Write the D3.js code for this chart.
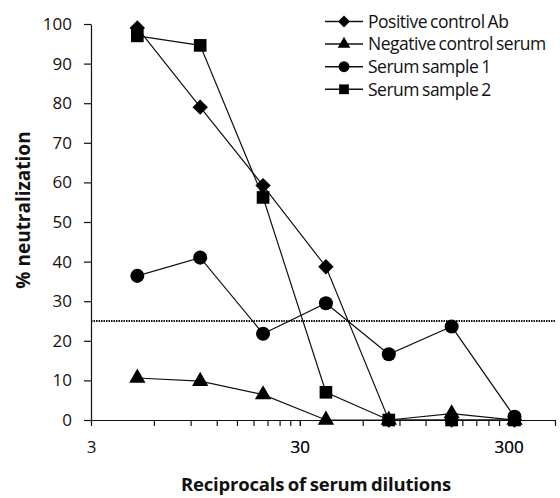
<!DOCTYPE html>
<html>
<head>
<meta charset="utf-8">
<script src="https://cdn.jsdelivr.net/npm/d3@7"></script>
<style>
  body { margin: 0; background: #fff; }
  text { font-family: "Open Sans", "Noto Sans", sans-serif; fill: #111; }
  .axis path, .axis line { stroke: #111; stroke-width: 1.2; }
</style>
</head>
<body>
<div id="chart"></div>
<script>
// dilutions (reciprocal) and % neutralization
const dilutions = [5, 10, 20, 40, 80, 160, 320];
const seriesNames = ["Positive control Ab", "Negative control serum", "Serum sample 1", "Serum sample 2"];
const positiveCtrl = [99, 79, 59.2, 38.7, 0, 0, 0];
const negativeCtrl = [10.6, 9.8, 6.4, 0, 0, 1.6, 0];
const sample1 = [36.4, 41, 21.8, 29.5, 16.6, 23.6, 0.8];
const sample2 = [97, 94.6, 56.2, 7, 0, 0, 0];
const cutoff = 25;
const xTickLabels = [3, 30, 300];
const yTicks = [0, 10, 20, 30, 40, 50, 60, 70, 80, 90, 100];

const symbols = [d3.symbolDiamond2, d3.symbolTriangle, d3.symbolCircle, d3.symbolSquare];
const symSize = [150, 115, 155, 160];
const allSeries = [positiveCtrl, negativeCtrl, sample1, sample2];

const W = 560, H = 498;
const margin = {top: 24, right: 5, bottom: 78, left: 91};

const svg = d3.select("#chart").append("svg")
    .attr("width", W)
    .attr("height", H);

const g = svg.append("g")
    .attr("transform", "translate(" + margin.left + "," + margin.top + ")");

const height = H - margin.top - margin.bottom;

const x = d3.scaleLog()
    .domain([3, 500])
    .range([0, 464]);

const y = d3.scaleLinear()
    .domain([0, 100])
    .range([height, 0]);

// minor ticks every 3 units of each decade, like the original
let xMinor = [];
[3, 30, 300].forEach(base => {
    for (let k = 1; k <= 10; k++) {
        let v = base * k;
        if (v <= 500) xMinor.push(v);
    }
});
xMinor.push(500);

const xAxis = d3.axisBottom(x)
    .tickValues(xMinor)
    .tickSize(6)
    .tickSizeOuter(0)
    .tickFormat(d => xTickLabels.includes(d) ? d : "");

const yAxis = d3.axisLeft(y)
    .tickValues(yTicks)
    .tickSize(7)
    .tickSizeOuter(0)
    .tickPadding(12);

g.append("g")
    .attr("class", "x-axis axis")
    .attr("transform", "translate(0," + height + ")")
    .call(xAxis)
    .selectAll("text")
    .attr("dy", "1.4em")
    .style("font-size", "17px");

g.append("g")
    .attr("class", "y-axis axis")
    .call(yAxis)
    .selectAll("text")
    .style("font-size", "17px");

g.selectAll(".axis .domain").attr("stroke-width", 1.5);

// cut-off line
g.append("line")
    .attr("x1", 0)
    .attr("x2", x(500))
    .attr("y1", y(cutoff))
    .attr("y2", y(cutoff))
    .attr("stroke", "#111")
    .attr("stroke-width", 1.8)
    .attr("stroke-dasharray", "1.5,1");

const line = d3.line()
    .x((d, i) => x(dilutions[i]))
    .y(d => y(d));

allSeries.forEach((vals, s) => {
    g.append("path")
        .datum(vals)
        .attr("fill", "none")
        .attr("stroke", "#111")
        .attr("stroke-width", 1.2)
        .attr("d", line);

    g.selectAll(".pt" + s)
        .data(vals)
        .enter().append("path")
        .attr("class", "pt" + s)
        .attr("transform", (d, i) => "translate(" + x(dilutions[i]) + "," + y(d) + ")")
        .attr("d", d3.symbol().type(symbols[s]).size(symSize[s]))
        .attr("fill", "#000");
});

// legend
const legend = svg.append("g").attr("transform", "translate(325,21.5)");
seriesNames.forEach((name, i) => {
    let row = legend.append("g").attr("transform", "translate(0," + (i * 22.6) + ")");
    row.append("line")
        .attr("x1", 0).attr("x2", 38)
        .attr("stroke", "#111").attr("stroke-width", 1.5);
    row.append("path")
        .attr("transform", "translate(19,0)")
        .attr("d", d3.symbol().type(symbols[i]).size(symSize[i] * 0.6))
        .attr("fill", "#000");
    row.append("text")
        .attr("x", 43)
        .attr("dy", "0.36em")
        .style("font-size", "17.5px")
        .style("letter-spacing", "-0.5px")
        .style("word-spacing", "-1px")
        .text(name);
});

// axis titles
svg.append("text")
    .attr("transform", "translate(23," + 210 + ") rotate(-90)")
    .attr("text-anchor", "middle")
    .attr("dy", "0.35em")
    .style("font-size", "19px")
    .style("font-weight", "bold")
    .text("% neutralization");

svg.append("text")
    .attr("x", 316)
    .attr("y", 491)
    .attr("text-anchor", "middle")
    .style("font-size", "18.5px")
    .style("font-weight", "bold")
    .style("letter-spacing", "-0.2px")
    .style("word-spacing", "-1px")
    .text("Reciprocals of serum dilutions");
</script>
</body>
</html>
